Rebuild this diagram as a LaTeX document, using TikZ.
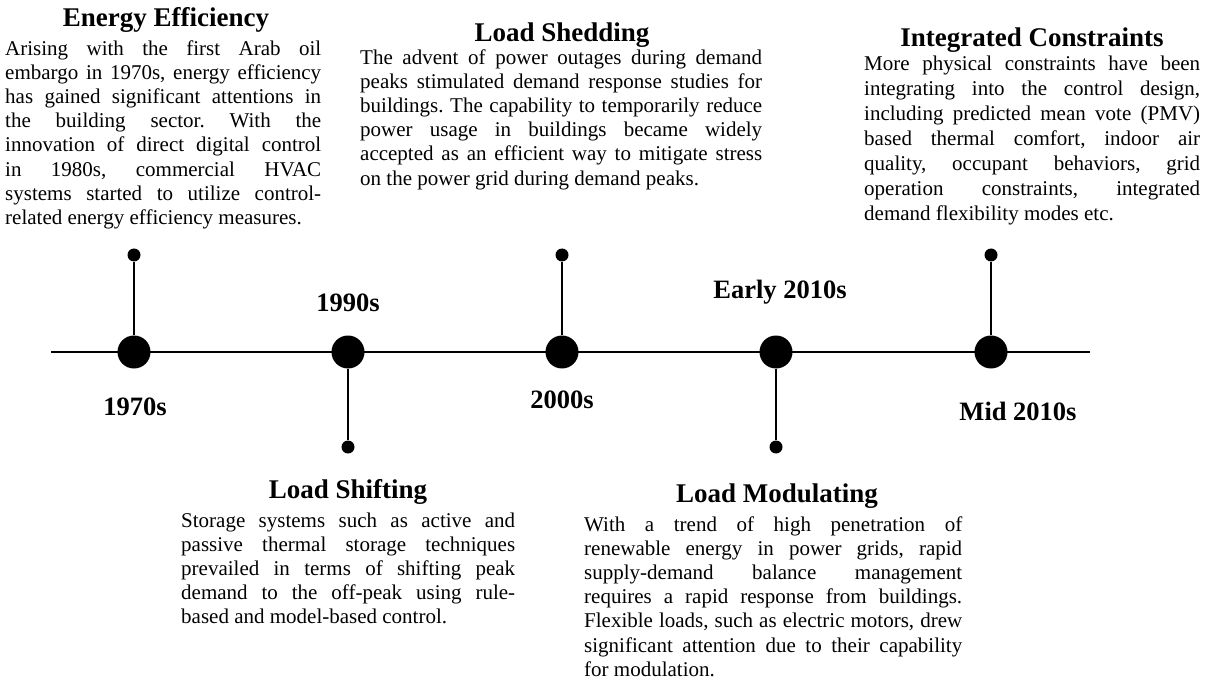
\documentclass[tikz,border=0pt]{standalone}
\usepackage{fontspec}
\setmainfont{Liberation Serif}
\usepackage{tikz}

\tikzset{
  axis/.style={line width=2pt},
  stem/.style={line width=2pt},
  bigdot/.style={circle,fill=black,inner sep=0pt,minimum size=33pt},
  smalldot/.style={circle,fill=black,inner sep=0pt,minimum size=13pt},
  era/.style={font=\fontsize{26.5}{30}\selectfont\bfseries},
  head/.style={font=\fontsize{27}{32}\selectfont\bfseries,anchor=base},
  body/.style={font=\fontsize{21}{24.2}\selectfont\frenchspacing,align=justify,
    inner sep=0pt,anchor=north west},
}

\begin{document}
\begin{tikzpicture}[x=1pt,y=-1pt]
    \useasboundingbox (0,0) rectangle (1211,687);
    % time axis
    \coordinate (tl) at (51,352); \coordinate (tr) at (1090,352);
    \draw[axis] (tl) -- (tr);
    \node[bigdot] (d1970) at (134,352) {};
    \node[bigdot] (d1990) at (348,352) {};
    \node[bigdot] (d2000) at (562,352) {};
    \node[bigdot] (d2010) at (776,352) {};
    \node[bigdot] (d2015) at (991,352) {};
    \node[smalldot] (e1970) at (134,255) {};
    \node[smalldot] (e1990) at (348,447) {};
    \node[smalldot] (e2000) at (562,255) {};
    \node[smalldot] (e2010) at (776,447) {};
    \node[smalldot] (e2015) at (991,255) {};
    \draw[stem] (d1970) -- (e1970); \draw[stem] (d1990) -- (e1990);
    \draw[stem] (d2000) -- (e2000); \draw[stem] (d2010) -- (e2010);
    \draw[stem] (d2015) -- (e2015);
    % era labels
    \node[era] (l1970) at (135,407) {1970s};
    \node[era] (l1990) at (348,303) {1990s};
    \node[era] (l2000) at (562,400) {2000s};
    \node[era] (l2010) at (780,292) {Early 2010s};
    \node[era] (l2015) at (1018,411) {Mid 2010s};
    % upper texts
    \node[head] (hEE) at (166,27) {Energy Efficiency};
    \node[body,text width=316pt] (tEE) at (5,38) {\strut Arising with the first Arab oil\linebreak
      embargo in 1970s, energy efficiency\linebreak
      has gained significant attentions in\linebreak
      the building sector. With the\linebreak
      innovation of direct digital control\linebreak
      in 1980s, commercial HVAC\linebreak
      systems started to utilize control-\linebreak
      related energy efficiency measures.};
    \node[head] (hLS) at (562,42) {Load Shedding};
    \node[body,text width=402pt] (tLS) at (360,47) {\strut The advent of power outages during demand\linebreak
      peaks stimulated demand response studies for\linebreak
      buildings. The capability to temporarily reduce\linebreak
      power usage in buildings became widely\linebreak
      accepted as an efficient way to mitigate stress\linebreak
      on the power grid during demand peaks.};
    \node[head] (hIC) at (1032,47) {Integrated Constraints};
    \node[body,text width=336pt,font=\fontsize{21}{25}\selectfont\frenchspacing] (tIC) at (864,53) {\strut More physical constraints have been\linebreak
      integrating into the control design,\linebreak
      including predicted mean vote (PMV)\linebreak
      based thermal comfort, indoor air\linebreak
      quality, occupant behaviors, grid\linebreak
      operation constraints, integrated\linebreak
      demand flexibility modes etc.};
    % lower texts
    \node[head] (hSH) at (348,498) {Load Shifting};
    \node[body,text width=334pt] (tSH) at (181,510) {\strut Storage systems such as active and\linebreak
      passive thermal storage techniques\linebreak
      prevailed in terms of shifting peak\linebreak
      demand to the off-peak using rule-\linebreak
      based and model-based control.};
    \node[head] (hLM) at (777,502) {Load Modulating};
    \node[body,text width=378pt] (tLM) at (584,514) {\strut With a trend of high penetration of\linebreak
      renewable energy in power grids, rapid\linebreak
      supply-demand balance management\linebreak
      requires a rapid response from buildings.\linebreak
      Flexible loads, such as electric motors, drew\linebreak
      significant attention due to their capability\linebreak
      for modulation.};
\end{tikzpicture}
\end{document}
